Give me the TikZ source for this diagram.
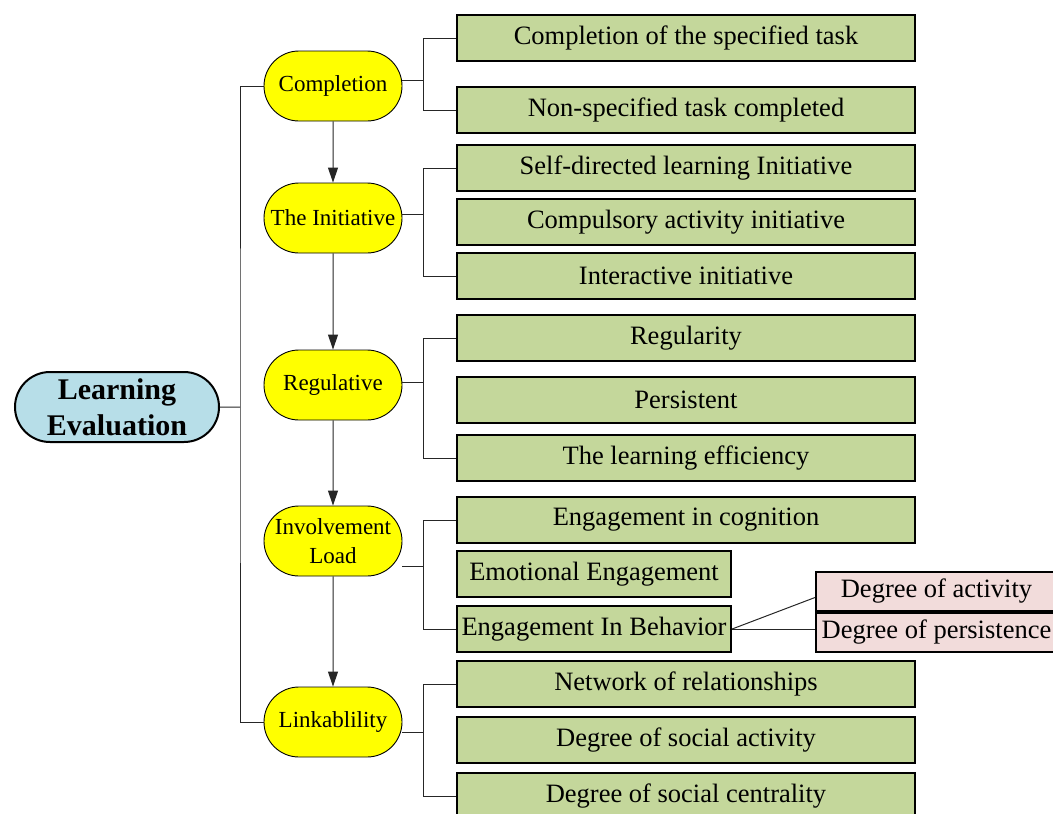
\documentclass[tikz,border=0pt]{standalone}
\usepackage{fontspec}
\setmainfont{Liberation Serif}
\usetikzlibrary{positioning,arrows.meta,shapes.misc}
\definecolor{rootblue}{HTML}{B7DEE8}
\definecolor{crityellow}{HTML}{FFFF00}
\definecolor{indgreen}{HTML}{C4D79B}
\definecolor{subpink}{HTML}{F2DCDB}

\begin{document}
\begin{tikzpicture}[
  x=1pt, y=-1pt,
  root/.style ={draw, line width=2pt, fill=rootblue, rounded rectangle, minimum width=208pt, minimum height=70pt, inner sep=2pt, align=center, font=\fontsize{30}{36}\selectfont\bfseries},
  crit/.style ={draw, line width=0.9pt, fill=crityellow, rounded rectangle, minimum width=142pt, minimum height=70pt, inner sep=2pt, align=center, font=\fontsize{23}{29}\selectfont},
  ind/.style  ={draw, line width=2.2pt, fill=indgreen, minimum width=458pt, minimum height=46pt, inner sep=0pt, font=\fontsize{26.5}{30}\selectfont},
  short/.style={ind, minimum width=274pt},
  subind/.style={draw, line width=2pt, fill=subpink, minimum width=241pt, minimum height=39pt, inner sep=0pt, font=\fontsize{26.5}{30}\selectfont},
  link/.style ={draw=black!85, line width=1pt},
  flow/.style ={link, -{Triangle[width=10pt,length=15pt]}},
]
\useasboundingbox (0,0) rectangle (1053,814);

% root and criteria
\node[root] (root) at (117,407) {Learning\\Evaluation};
\node[crit] (c1) at (333,86)  {Completion};
\node[crit] (c2) at (333,218) {The Initiative};
\node[crit] (c3) at (333,385) {Regulative};
\node[crit] (c4) at (333,541) {Involvement\\Load};
\node[crit] (c5) at (333,722) {Linkablility};

% indicators
\node[ind] (i11) at (686,38)  {Completion of the specified task};
\node[ind] (i12) at (686,110) {Non-specified task completed};
\node[ind] (i21) at (686,168) {Self-directed learning Initiative};
\node[ind] (i22) at (686,222) {Compulsory activity initiative};
\node[ind] (i23) at (686,276) {Interactive initiative};
\node[ind] (i31) at (686,338) {Regularity};
\node[ind] (i32) at (686,400) {Persistent};
\node[ind] (i33) at (686,458) {The learning efficiency};
\node[ind] (i41) at (686,520) {Engagement in cognition};
\node[short] (i42) at (594,574) {Emotional Engagement};
\node[short] (i43) at (594,629) {Engagement In Behavior};
\node[ind] (i51) at (686,684) {Network of relationships};
\node[ind] (i52) at (686,740) {Degree of social activity};
\node[ind] (i53) at (686,796) {Degree of social centrality};

% behaviour sub-indicators
\node[subind] (s1) at (936.5,591.5) {Degree of activity};
\node[subind] (s2) at (936.5,632.5) {Degree of persistence};

% trunk from the root
\coordinate (trunk) at (240,407);
\coordinate (brk) at (423,0);
\draw[link] (root) -- (trunk);
\draw[link] (c1.west) -| (trunk) |- (c5.west);

% criteria chain
\foreach \a/\b in {c1/c2, c2/c3, c3/c4, c4/c5}
  \draw[flow] (\a) -- (\b);

% brackets to the indicators
\foreach \c/\f/\l/\dy in {c1/i11/i12/6, c2/i21/i23/4, c3/i31/i33/3, c4/i41/i43/-25, c5/i51/i53/-10} {
  \draw[link] ([yshift=\dy pt]\c.east) -- ([yshift=\dy pt]\c.east -| brk);
  \draw[link] (\f.west) -- (\f.west -| brk) -- (\l.west -| brk) -- (\l.west);
}

\draw[link] (i43.east) -- ([yshift=-6pt]s1.west);
\draw[link] (i43.east) -- (i43.east -| s2.west);
\end{tikzpicture}
\end{document}
